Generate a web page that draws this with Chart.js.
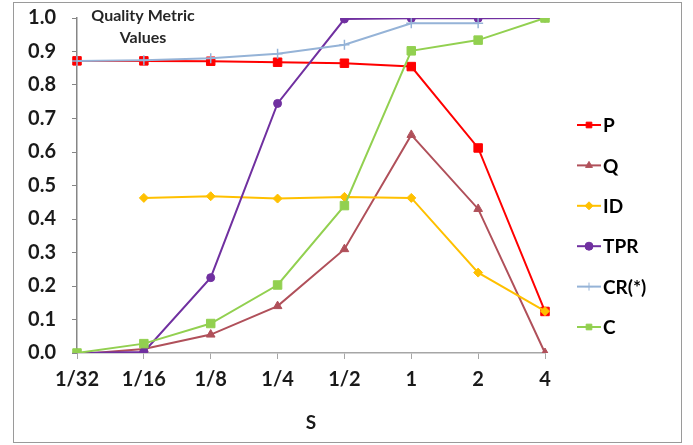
<!DOCTYPE html>
<html>
<head>
<meta charset="utf-8">
<script src="https://cdn.jsdelivr.net/npm/chart.js@4"></script>
<style>
  body { margin: 0; background: #fff; }
  #wrap { width: 693px; height: 445px; position: relative; }
</style>
</head>
<body>
<div id="wrap"><canvas id="qualityCanvas"></canvas></div>
<script>
// Données
var categories = ["1/32", "1/16", "1/8", "1/4", "1/2", "1", "2", "4"];
var seriesP   = [0.872, 0.872, 0.871, 0.868, 0.865, 0.855, 0.612, 0.124];
var seriesQ   = [-0.004, 0.012, 0.055, 0.140, 0.310, 0.651, 0.430, 0.000];
var seriesID  = [null, 0.463, 0.468, 0.461, 0.466, 0.463, 0.240, 0.125];
var seriesTPR = [0.000, 0.003, 0.225, 0.745, 0.997, 0.999, 0.999, 1.000];
var seriesCR  = [0.872, 0.874, 0.880, 0.893, 0.920, 0.984, 0.984, null];
var seriesC   = [0.000, 0.028, 0.088, 0.203, 0.440, 0.902, 0.934, 1.000];
var yTicks = [0, 0.1, 0.2, 0.3, 0.4, 0.5, 0.6, 0.7, 0.8, 0.9, 1.0];

var fontFamily = "Lato, 'Open Sans', sans-serif";

function serie(label, data, color, style, radius, order) {
  return {
    label: label,
    data: data,
    borderColor: color,
    backgroundColor: color,
    pointBackgroundColor: color,
    pointBorderColor: color,
    pointStyle: style,
    pointRadius: radius,
    pointBorderWidth: style == "cross" ? 1.5 : 1,
    borderWidth: 2,
    tension: 0,
    spanGaps: false,
    order: order
  };
}

// Légende dessinée à la main (trait + marqueur)
var legendPlugin = {
  id: "legendeExcel",
  afterDraw: function(chart) {
    var ctx = chart.ctx;
    chart.data.datasets.forEach(function(ds, i) {
      var y = 125 + i * 40.4;
      ctx.save();
      ctx.strokeStyle = ds.borderColor;
      ctx.lineWidth = 2;
      ctx.beginPath();
      ctx.moveTo(577, y);
      ctx.lineTo(601, y);
      ctx.stroke();
      ctx.fillStyle = ds.borderColor;
      ctx.strokeStyle = ds.borderColor;
      ctx.lineWidth = 1;
      Chart.helpers.drawPoint(ctx, {pointStyle: ds.pointStyle, radius: 4, rotation: 0, borderWidth: 1}, 589, y);
      ctx.fillStyle = "#000";
      ctx.font = "bold 19px " + fontFamily;
      ctx.textBaseline = "middle";
      ctx.textAlign = "left";
      ctx.fillText(ds.label, 603, y + 1);
      ctx.restore();
    });
    // Titre de l'axe Y
    ctx.save();
    ctx.fillStyle = "#262626";
    ctx.font = "bold 16px " + fontFamily;
    ctx.textAlign = "center";
    ctx.textBaseline = "middle";
    ctx.fillText("Quality Metric", 143, 16);
    ctx.fillText("Values", 143, 38);
    // cadre
    ctx.strokeStyle = "#9a9a9a";
    ctx.lineWidth = 1;
    ctx.strokeRect(13.5, 2.5, 668, 440);
    ctx.restore();
  }
};

var dataGraph = {
  type: "line",
  data: {
    labels: categories,
    datasets: [
      serie("P", seriesP, "#ff0000", "rect", 6, 5),
      serie("Q", seriesQ, "#b0505a", "triangle", 5, 4),
      serie("ID", seriesID, "#ffc000", "rectRot", 4.5, 3),
      serie("TPR", seriesTPR, "#7030a0", "circle", 4, 2),
      serie("CR(*)", seriesCR, "#95b3d7", "cross", 5, 1),
      serie("C", seriesC, "#92d050", "rect", 6, 0)
    ]
  },
  options: {
    responsive: true,
    maintainAspectRatio: false,
    animation: false,
    layout: {
      padding: { left: 0, right: 148, top: 18, bottom: 0 }
    },
    scales: {
      x: {
        type: "category",
        offset: false,
        grid: { display: true, drawOnChartArea: false, tickLength: 6, color: "#a6a6a6" },
        border: { display: true, color: "#a6a6a6", width: 1.5 },
        ticks: {
          color: "#1a1a1a",
          padding: 9,
          maxRotation: 0,
          autoSkip: false,
          font: { family: fontFamily, size: 20, weight: "bold" }
        },
        title: {
          display: true,
          text: "S",
          color: "#1a1a1a",
          padding: { top: 4, bottom: 11 },
          font: { family: fontFamily, size: 19, weight: "bold" }
        },
        afterFit: function(scale) {
          scale.height = 92;
          scale.paddingTop = 0;
          scale.paddingBottom = 0;
        }
      },
      y: {
        min: 0,
        max: 1,
        afterBuildTicks: function(scale) {
          scale.ticks = yTicks.map(function(v) { return { value: v }; });
        },
        grid: { display: true, drawOnChartArea: false, tickLength: 5, color: "#868686" },
        border: { display: true, color: "#868686", width: 1.5 },
        ticks: {
          color: "#1a1a1a",
          padding: 16,
          callback: function(v) { return Number(v).toFixed(1); },
          font: { family: fontFamily, size: 20, weight: "bold" }
        },
        afterFit: function(scale) {
          scale.width = 77;
          scale.paddingTop = 0;
          scale.paddingBottom = 0;
        }
      }
    },
    plugins: {
      legend: { display: false },
      tooltip: { enabled: false }
    }
  },
  plugins: [legendPlugin]
};

var myLineChart = new Chart(document.getElementById("qualityCanvas"), dataGraph);
</script>
</body>
</html>
